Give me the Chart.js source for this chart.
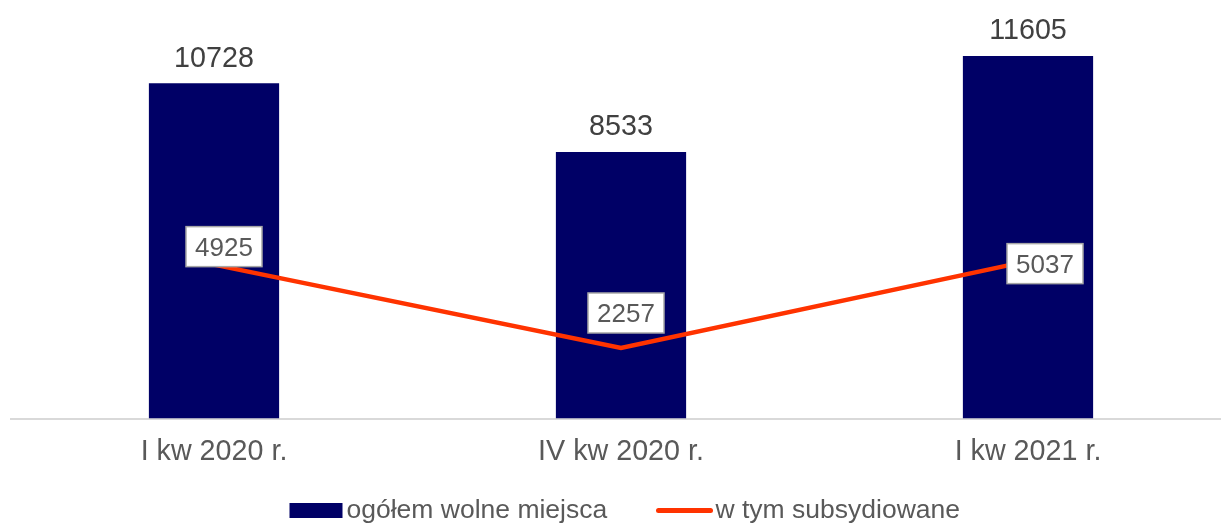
<!DOCTYPE html>
<html>
<head>
<meta charset="utf-8">
<script src="https://cdn.jsdelivr.net/npm/chart.js@4.4.0/dist/chart.umd.min.js"></script>
<style>
html,body{margin:0;padding:0;overflow:hidden;background:#fff;}
#wrap{width:1232px;height:523px;position:relative;}
</style>
</head>
<body>
<div id="wrap"><canvas id="c"></canvas></div>
<script>
const categories = ['I kw 2020 r.', 'IV kw 2020 r.', 'I kw 2021 r.'];
const totalVacancies = [10728, 8533, 11605];
const subsidised = [4925, 2257, 5037];
const seriesNames = ['ogółem wolne miejsca', 'w tym subsydiowane'];

const FONT = '"Liberation Sans", Arial, sans-serif';
const NAVY = '#000066';
const RED = '#FF3300';

// offsets of boxed labels relative to their line point
const boxOffsets = [[10, -18], [5, -35], [17, 2.5]];

const labelsPlugin = {
  id: 'labelsPlugin',
  afterDatasetsDraw(chart) {
    const ctx = chart.ctx;
    ctx.save();
    const barMeta = chart.getDatasetMeta(1);
    ctx.font = '28.7px ' + FONT;
    ctx.fillStyle = '#404040';
    ctx.textAlign = 'center';
    ctx.textBaseline = 'alphabetic';
    barMeta.data.forEach((el, i) => {
      ctx.fillText(String(chart.data.datasets[1].data[i]), el.x, el.y - 16.5);
    });
    const lineMeta = chart.getDatasetMeta(0);
    ctx.font = '26px ' + FONT;
    lineMeta.data.forEach((el, i) => {
      const cx = el.x + boxOffsets[i][0];
      const cy = el.y + boxOffsets[i][1];
      const w = 76, h = 40;
      ctx.fillStyle = '#ffffff';
      ctx.fillRect(cx - w / 2, cy - h / 2, w, h);
      ctx.strokeStyle = '#a6a6a6';
      ctx.lineWidth = 1.5;
      ctx.strokeRect(cx - w / 2, cy - h / 2, w, h);
      ctx.fillStyle = '#595959';
      ctx.textAlign = 'center';
      ctx.fillText(String(chart.data.datasets[0].data[i]), cx, cy + 9.3);
    });
    ctx.restore();
  },
  afterDraw(chart) {
    const ctx = chart.ctx;
    ctx.save();
    const ds = chart.data.datasets;
    ctx.font = '26.5px ' + FONT;
    ctx.textAlign = 'left';
    ctx.textBaseline = 'alphabetic';
    const ly = 510.5;
    ctx.fillStyle = ds[1].backgroundColor;
    ctx.fillRect(289.5, 503, 53, 15);
    ctx.fillStyle = '#595959';
    ctx.fillText(ds[1].label, 346.5, 518.3);
    ctx.strokeStyle = ds[0].borderColor;
    ctx.lineWidth = 5;
    ctx.lineCap = 'round';
    ctx.beginPath();
    ctx.moveTo(658.5, ly);
    ctx.lineTo(710.5, ly);
    ctx.stroke();
    ctx.fillText(ds[0].label, 715.5, 518.3);
    ctx.restore();
  }
};

new Chart(document.getElementById('c'), {
  data: {
    labels: categories,
    datasets: [
      {
        type: 'line',
        label: seriesNames[1],
        data: subsidised,
        borderColor: RED,
        backgroundColor: RED,
        borderWidth: 4.5,
        pointRadius: 0,
        tension: 0,
        order: 0
      },
      {
        type: 'bar',
        label: seriesNames[0],
        data: totalVacancies,
        backgroundColor: NAVY,
        borderWidth: 0,
        categoryPercentage: 1,
        barPercentage: 0.32,
        order: 1
      }
    ]
  },
  options: {
    responsive: true,
    maintainAspectRatio: false,
    animation: false,
    layout: { padding: { left: 10.5, right: 0.5, top: 43.6, bottom: 0 } },
    plugins: {
      legend: { display: false },
      tooltip: { enabled: false },
      title: { display: false }
    },
    scales: {
      x: {
        grid: { display: false, drawTicks: false },
        border: { display: true, color: '#d9d9d9', width: 2 },
        ticks: {
          color: '#595959',
          font: { family: FONT, size: 28.7 },
          padding: 16,
          maxRotation: 0,
          autoSkip: false
        },
        afterFit(scale) { scale.height = 104.5; }
      },
      y: {
        display: false,
        min: 0,
        max: 12000
      }
    }
  },
  plugins: [labelsPlugin]
});
</script>
</body>
</html>
